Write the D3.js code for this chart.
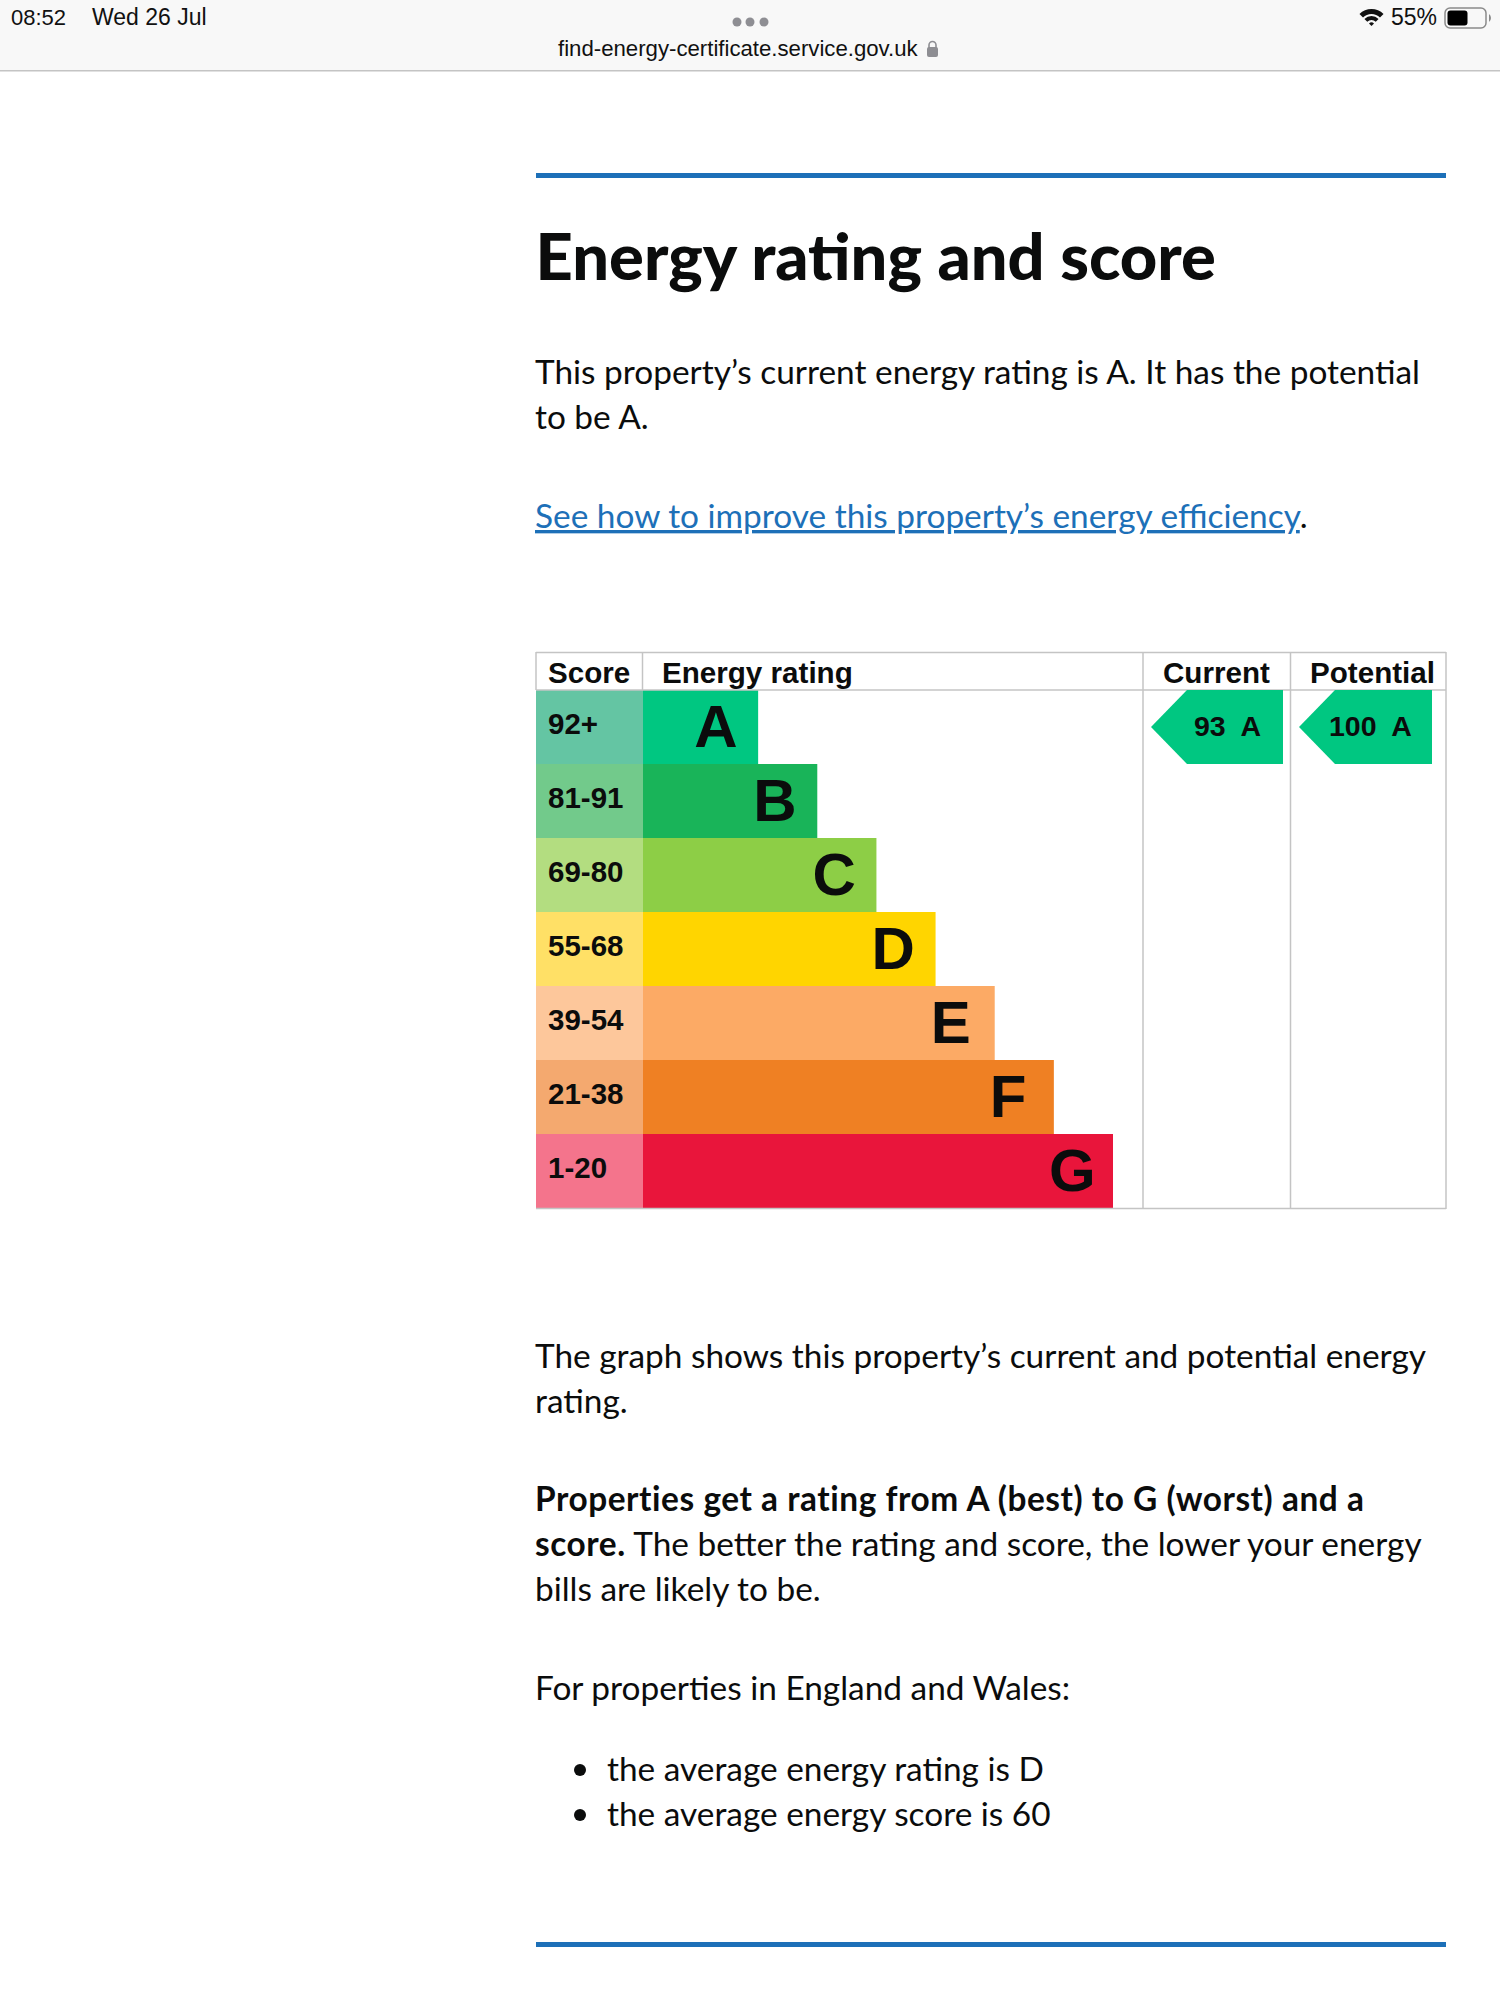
<!DOCTYPE html>
<html>
<head>
<meta charset="utf-8">
<title>Energy rating and score</title>
<script src="https://cdn.jsdelivr.net/npm/d3@7"></script>
<style>
  html, body { margin: 0; padding: 0; background: #fff; }
  svg { display: block; }
  .ui { font-family: "Liberation Sans", sans-serif; fill: #111; }
  .body { font-family: "Lato", sans-serif; font-size: 33.4px; fill: #0b0c0c; }
  .chart { font-family: "Liberation Sans", sans-serif; font-weight: bold; fill: #0b0c0c; }
</style>
</head>
<body>
<svg id="page" width="1500" height="2000"></svg>
<script>
// chart data
const ratings = ["A", "B", "C", "D", "E", "F", "G"]
const scoreBands = ["92+", "81-91", "69-80", "55-68", "39-54", "21-38", "1-20"]
const barSteps = [2, 3, 4, 5, 6, 7, 8]
const barColors = ["#00c781", "#19b459", "#8dce46", "#ffd500", "#fcaa65", "#ef8023", "#e9153b"]
const bandColors = ["#64c5a3", "#72ca8b", "#b3dd80", "#ffe066", "#fdc79b", "#f4a96f", "#f4748c"]
const columnTitles = ["Score", "Energy rating", "Current", "Potential"]
const currentScore = 93
const potentialScore = 100
const currentRating = "A"
const potentialRating = "A"

const svg = d3.select("#page")

// scales
const y = d3.scaleBand().domain(ratings).range([690, 1208])
const x = d3.scaleLinear().domain([1, 8]).range([699, 1113])

// browser status bar
svg.append("rect").attr("width", 1500).attr("height", 70).attr("fill", "#f8f8f8")
svg.append("rect").attr("y", 70).attr("width", 1500).attr("height", 1.5).attr("fill", "#c4c4c4")
const statusText = [
  { t: "08:52", x: 11, y: 25, size: 22 },
  { t: "Wed 26 Jul", x: 92, y: 25, size: 23 },
  { t: "55%", x: 1391, y: 25, size: 23 },
  { t: "find-energy-certificate.service.gov.uk", x: 558, y: 56, size: 22.2 }
]
svg.selectAll(".status").data(statusText).join("text")
  .attr("class", "status ui")
  .attr("x", d => d.x).attr("y", d => d.y)
  .attr("font-size", d => d.size)
  .text(d => d.t)

svg.selectAll(".dot").data([737, 750, 764]).join("circle")
  .attr("class", "dot").attr("cx", d => d).attr("cy", 22).attr("r", 4.5).attr("fill", "#8e8e93")

// lock
svg.append("rect").attr("x", 927).attr("y", 47).attr("width", 11).attr("height", 10).attr("rx", 2).attr("fill", "#8e8e93")
svg.append("path").attr("d", "M929 48v-3a3.5 3.5 0 0 1 7 0v3").attr("fill", "none").attr("stroke", "#8e8e93").attr("stroke-width", 1.6)

// wifi
const wifiArc = d3.arc().startAngle(-Math.PI / 4).endAngle(Math.PI / 4)
const wifi = svg.append("g").attr("transform", "translate(1371.5,26)")
wifi.selectAll("path").data([[0, 3.5], [6, 10], [12, 17]]).join("path")
  .attr("d", d => wifiArc({ innerRadius: d[0], outerRadius: d[1] }))
  .attr("fill", "#111")

// battery
svg.append("rect").attr("x", 1445).attr("y", 8).attr("width", 41).attr("height", 20).attr("rx", 5)
  .attr("fill", "none").attr("stroke", "#8a8a8a").attr("stroke-width", 1.5)
svg.append("rect").attr("x", 1447.5).attr("y", 10.5).attr("width", 20).attr("height", 15).attr("rx", 3).attr("fill", "#000")
svg.append("path").attr("d", "M1489 14a5 5 0 0 1 0 8z").attr("fill", "#8a8a8a")

// rules
svg.selectAll(".rule").data([173, 1942]).join("rect")
  .attr("class", "rule").attr("x", 536).attr("y", d => d).attr("width", 910).attr("height", 5).attr("fill", "#1d70b8")

// page copy
svg.append("text").attr("x", 535.5).attr("y", 280)
  .attr("font-family", "Lato, sans-serif").attr("font-weight", 900).attr("font-size", 65).attr("fill", "#0b0c0c")
  .text("Energy rating and score")

const copyLines = [
  { y: 384, parts: [["This property\u2019s current energy rating is A. It has the potential", 400]] },
  { y: 429, parts: [["to be A.", 400]] },
  { y: 1368, parts: [["The graph shows this property\u2019s current and potential energy", 400]] },
  { y: 1413, parts: [["rating.", 400]] },
  { y: 1511, parts: [["Properties get a rating from A (best) to G (worst) and a", 700]] },
  { y: 1556, parts: [["score.", 700], [" The better the rating and score, the lower your energy", 400]] },
  { y: 1601, parts: [["bills are likely to be.", 400]] },
  { y: 1700, parts: [["For properties in England and Wales:", 400]] }
]
const copy = svg.selectAll(".copy").data(copyLines).join("text")
  .attr("class", "copy body").attr("x", 535).attr("y", d => d.y).style("white-space", "pre")
copy.selectAll("tspan").data(d => d.parts).join("tspan")
  .attr("font-weight", d => d[1])
  .attr("letter-spacing", d => d[1] === 700 ? 0.55 : 0)
  .text(d => d[0])

const link = svg.append("text").attr("class", "body").attr("x", 535).attr("y", 528)
link.append("tspan").attr("fill", "#1d70b8").attr("text-decoration", "underline")
  .text("See how to improve this property\u2019s energy efficiency")
link.append("tspan").text(".")

const bullets = ["the average energy rating is D", "the average energy score is 60"]
const bulletY = d3.scalePoint().domain(bullets).range([1781, 1826])
svg.selectAll(".bullet-dot").data(bullets).join("circle")
  .attr("class", "bullet-dot").attr("cx", 580).attr("cy", d => bulletY(d) - 11).attr("r", 6).attr("fill", "#0b0c0c")
svg.selectAll(".bullet").data(bullets).join("text")
  .attr("class", "bullet body").attr("x", 607).attr("y", d => bulletY(d)).text(d => d)

// rating chart
const chart = svg.append("g")

chart.selectAll(".band").data(ratings).join("rect")
  .attr("class", "band").attr("x", 536).attr("y", d => y(d)).attr("width", 107).attr("height", y.bandwidth())
  .attr("fill", (d, i) => bandColors[i])

chart.selectAll(".bar").data(ratings).join("rect")
  .attr("class", "bar").attr("x", 643).attr("y", d => y(d))
  .attr("width", (d, i) => x(barSteps[i]) - 643).attr("height", y.bandwidth())
  .attr("fill", (d, i) => barColors[i])

// grid lines
const vLines = [536, 642.5, 1143, 1290.5, 1446]
chart.selectAll(".vline").data(vLines).join("line")
  .attr("class", "vline")
  .attr("x1", d => d).attr("x2", d => d).attr("y1", 652).attr("y2", d => (d === 536 || d === 642.5) ? 690 : 1209)
  .attr("stroke", "#c4c4c4").attr("stroke-width", 1.5)
chart.selectAll(".hline").data([652.5, 690, 1208.5]).join("line")
  .attr("class", "hline")
  .attr("x1", 536).attr("x2", 1446).attr("y1", d => d).attr("y2", d => d)
  .attr("stroke", "#c4c4c4").attr("stroke-width", 1.5)

const headerX = [548, 662, 1163, 1310]
chart.selectAll(".head").data(columnTitles).join("text")
  .attr("class", "head chart").attr("x", (d, i) => headerX[i]).attr("y", 683)
  .attr("font-size", 29.6).text(d => d)

chart.selectAll(".band-label").data(ratings).join("text")
  .attr("class", "band-label chart").attr("x", 548).attr("y", d => y(d) + y.bandwidth() / 2 + 7)
  .attr("font-size", 29.5).text((d, i) => scoreBands[i])

chart.selectAll(".letter").data(ratings).join("text")
  .attr("class", "letter chart")
  .attr("x", (d, i) => x(barSteps[i]) - 64).attr("y", d => y(d) + y.bandwidth() / 2 + 20)
  .attr("font-size", 60).text(d => d)

// current and potential arrows
const pointers = [
  { score: currentScore, rating: currentRating, left: 1151, right: 1283, textX: 1194 },
  { score: potentialScore, rating: potentialRating, left: 1299, right: 1432, textX: 1329 }
]
const pointerLine = d3.line()
const pointerGroups = chart.selectAll(".pointer").data(pointers).join("g").attr("class", "pointer")
pointerGroups.append("path")
  .attr("fill", d => barColors[ratings.indexOf(d.rating)])
  .attr("d", d => {
    const top = y(d.rating), h = y.bandwidth()
    return pointerLine([[d.left, top + h / 2], [d.left + 36, top], [d.right, top], [d.right, top + h], [d.left + 36, top + h]]) + "Z"
  })
pointerGroups.append("text")
  .attr("class", "chart").attr("x", d => d.textX).attr("y", d => y(d.rating) + y.bandwidth() / 2 + 9)
  .attr("font-size", 28.5).style("white-space", "pre")
  .text(d => d.score + "  " + d.rating)
</script>
</body>
</html>
